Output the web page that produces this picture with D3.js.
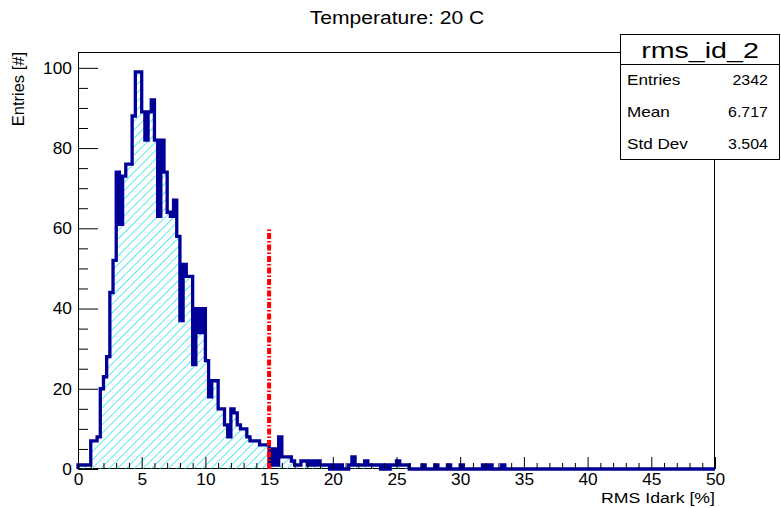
<!DOCTYPE html>
<html><head><meta charset="utf-8">
<script src="https://cdn.jsdelivr.net/npm/d3@7"></script>
<style>
body{margin:0;background:#fff}
svg{display:block}
text{font-family:"Liberation Sans",Arial,Helvetica,sans-serif;fill:#000}
</style>
</head><body><svg id="c" width="781" height="508"></svg>
<script>
// ---- data ----
const counts = [
  1,1,1,1, 7,7,8,20, 23,28,44,52, 74,61,73,76, 76,88,99,99,
  89,82,89,92, 82,63,82,74, 64,63,67,58, 37,51,48,48, 26,40,34,40,
  27,18,22,22, 15,15,11,8, 15,14,11,10, 10,8,7,7, 7,6,6,6,
  1,5,1,8, 3,3,3,2, 1,1,2,2, 1,2,1,2, 1,1,1,0,
  1,0,1,0, 0,1,3,1, 1,1,2,1, 1,1,1,0, 1,0,1,1,
  2,1,1,1, 0,0,0,0, 1,0,0,0, 1,0,0,0, 1,0,0,0,
  1,0,0,0, 0,0,0,1, 0,1,0,0, 0,1,0,0, 0,0,0,0,
  0,0,0,0, 0,0,0,0, 0,0,0,0, 0,0,0,0, 0,0,0,0,
  0,0,0,0, 0,0,0,0, 0,0,0,0, 0,0,0,0, 0,0,0,0,
  0,0,0,0, 0,0,0,0, 0,0,0,0, 0,0,0,0, 0,0,0,0
];
const xRange = [0, 50];
const xTickValues = [0,5,10,15,20,25,30,35,40,45,50];
const yTickValues = [0,20,40,60,80,100];
const chartTitle = "Temperature: 20 C";
const xTitle = "RMS Idark [%]";
const yTitle = "Entries [#]";
const statsName = "rms_id_2";
const statLabels = ["Entries","Mean","Std Dev"];
const statValues = ["2342","6.717","3.504"];
const cutX = [15, 15];
const cutY = [0, 60];

// ---- layout ----
const svg = d3.select("#c");
const L = 78, R = 715, T = 52, B = 469;
const yMax = d3.max(counts) * 1.05;
const x = d3.scaleLinear().domain(xRange).range([L, R]);
const y = d3.scaleLinear().domain([0, yMax]).range([B, T]);
const bw = (xRange[1] - xRange[0]) / counts.length;

function stretch(sel, k) {
  sel.each(function() {
    const w = this.getComputedTextLength();
    d3.select(this).attr("textLength", w * k).attr("lengthAdjust", "spacingAndGlyphs");
  });
  return sel;
}

svg.append("rect").attr("width",781).attr("height",508).attr("fill","#fff");

// hatch pattern
const defs = svg.append("defs");
const pat = defs.append("pattern").attr("id","hatch").attr("patternUnits","userSpaceOnUse")
  .attr("width",6).attr("height",6).attr("patternTransform","rotate(45)");
pat.append("line").attr("x1",0).attr("y1",-1).attr("x2",0).attr("y2",7)
  .attr("stroke","#00dcf0").attr("stroke-width",1.3);
defs.append("clipPath").attr("id","pc").append("rect")
  .attr("x",L).attr("y",T).attr("width",R-L).attr("height",B-T);

// frame
svg.append("rect").attr("x",L+0.5).attr("y",T+0.5).attr("width",R-L-1).attr("height",B-T-1)
  .attr("fill","none").attr("stroke","#000").attr("stroke-width",1);

// histogram path
const pts = [[xRange[0], 0]];
counts.forEach((c,i) => {
  const lo = xRange[0] + i*bw, hi = lo + bw;
  pts.push([lo, c]); pts.push([hi, c]);
});
pts.push([xRange[1], 0]);
const line = d3.line().x(d => x(d[0])).y(d => y(d[1]));
const g = svg.append("g").attr("clip-path","url(#pc)");
g.append("path").attr("d", line(pts) + "Z").attr("fill","url(#hatch)").attr("stroke","none");
svg.append("path").attr("d", line(pts)).attr("fill","none")
  .attr("stroke","#000099").attr("stroke-width",3.3).attr("stroke-linejoin","miter");

// axes
const xMinor = d3.range(0, 51, 1).filter(v => v % 5 !== 0);
const yMinor = d3.range(0, 101, 5).filter(v => v % 20 !== 0);
const ax = svg.append("g").attr("transform",`translate(0,${B})`)
  .call(d3.axisBottom(x).tickValues(xTickValues).tickSize(-12).tickPadding(4).tickFormat(d3.format("d")));
const axm = svg.append("g").attr("transform",`translate(0,${B})`)
  .call(d3.axisBottom(x).tickValues(xMinor).tickSize(-6).tickFormat(""));
const ay = svg.append("g").attr("transform",`translate(${L},0)`)
  .call(d3.axisLeft(y).tickValues(yTickValues).tickSize(-20).tickPadding(6).tickFormat(d3.format("d")));
const aym = svg.append("g").attr("transform",`translate(${L},0)`)
  .call(d3.axisLeft(y).tickValues(yMinor).tickSize(-10).tickFormat(""));
[ax,axm,ay,aym].forEach(a => { a.select(".domain").remove(); a.selectAll("line").attr("stroke","#000"); });
[ax,ay].forEach(a => {
  const t = a.selectAll("text").attr("font-size",16.5).attr("font-family",'"Liberation Sans",Arial,sans-serif').attr("fill","#000");
  stretch(t, 1.05);
});

// cut line
svg.append("path").attr("d", d3.line().x(d=>x(d[0])).y(d=>y(d[1]))(cutX.map((v,i)=>[v,cutY[i]])))
  .attr("stroke","#ff0000").attr("stroke-width",4).attr("stroke-dasharray","6,2,1.5,2").attr("fill","none");

// titles
stretch(svg.append("text").attr("x",397).attr("y",24).attr("text-anchor","middle").attr("font-size",18).text(chartTitle), 1.17);
stretch(svg.append("text").attr("x",R).attr("y",503).attr("text-anchor","end").attr("font-size",15.5).text(xTitle), 1.14);
svg.append("text").attr("transform",`translate(24,${T}) rotate(-90)`).attr("text-anchor","end").attr("font-size",16.5).text(yTitle);

// stats box
const sb = {x0:620.5, x1:779.5, y0:34.5, ySep:64.5, y1:159.5};
svg.append("rect").attr("x",sb.x0).attr("y",sb.y0).attr("width",sb.x1-sb.x0).attr("height",sb.y1-sb.y0)
  .attr("fill","#fff").attr("stroke","#000").attr("stroke-width",1);
svg.append("line").attr("x1",sb.x0).attr("x2",sb.x1).attr("y1",sb.ySep).attr("y2",sb.ySep).attr("stroke","#000");
stretch(svg.append("text").attr("x",(sb.x0+sb.x1)/2).attr("y",58).attr("text-anchor","middle").attr("font-size",22).text(statsName), 1.3);
const rowY = d3.scaleBand().domain(statLabels).range([sb.ySep, sb.y1]);
statLabels.forEach((lab,i) => {
  const cy = rowY(lab) + rowY.bandwidth()/2;
  stretch(svg.append("text").attr("x",627).attr("y",cy+5).attr("font-size",14.5).text(lab), 1.18);
  stretch(svg.append("text").attr("x",768).attr("y",cy+5).attr("text-anchor","end").attr("font-size",14.5).text(statValues[i]), 1.1);
});
</script>
</body></html>
